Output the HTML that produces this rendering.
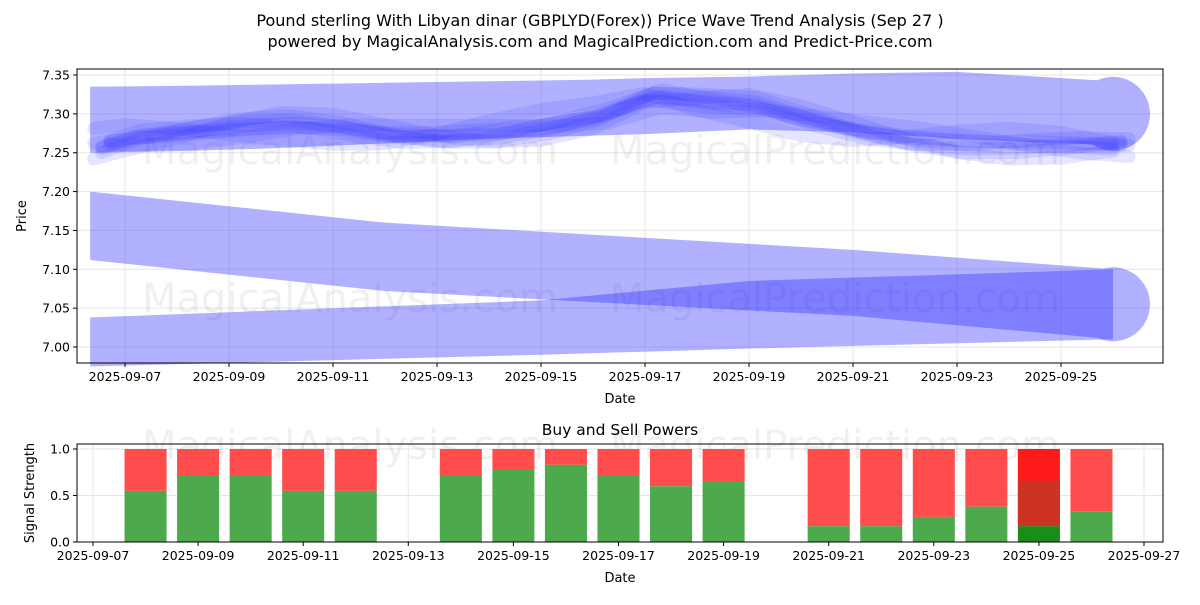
<!DOCTYPE html>
<html><head><meta charset="utf-8">
<style>
body{margin:0;background:#fff;font-family:"Liberation Sans","DejaVu Sans",sans-serif;}
svg text{font-family:"DejaVu Sans","Liberation Sans",sans-serif;}
</style></head>
<body>
<svg id="c" width="1200" height="600" viewBox="0 0 1200 600">
<text x="600" y="26" text-anchor="middle" font-size="16">Pound sterling With Libyan dinar (GBPLYD(Forex)) Price Wave Trend Analysis (Sep 27 )</text>
<text x="600" y="47" text-anchor="middle" font-size="16">powered by MagicalAnalysis.com and MagicalPrediction.com and Predict-Price.com</text>
<g id="topg"></g>
<g id="botg"></g>
</svg>
<script>
// ---- data ----
const waveDates=[6.4,7,8,9,10,11,12,13,14,15,16,17,18,19,20,21,22,23,24,25,26];
const waveCenter=[7.262,7.268,7.272,7.278,7.283,7.281,7.276,7.276,7.280,7.286,7.296,7.318,7.310,7.306,7.292,7.280,7.272,7.266,7.262,7.258,7.255];
const upperBandTop=[7.335,7.336,7.338,7.340,7.342,7.344,7.346,7.348,7.352,7.354,7.346,7.342];
const upperBandBot=[7.250,7.252,7.256,7.262,7.268,7.272,7.274,7.280,7.276,7.268,7.262,7.260];
const upperBandX=[6.33,8,10,12,14,16,17,19,21,23,25,26.0];
const barDates=[8,9,10,11,12,14,15,16,17,18,19,21,22,23,24,25,26];
const buyPower=[0.55,0.72,0.72,0.55,0.55,0.72,0.78,0.83,0.72,0.6,0.65,0.17,0.17,0.27,0.38,0.17,0.33];
const yTicksTop=[7.00,7.05,7.10,7.15,7.20,7.25,7.30,7.35];
const xTicksTop=[7,9,11,13,15,17,19,21,23,25];
const xTicksBot=[7,9,11,13,15,17,19,21,23,25,27];
const yTicksBot=[0,0.5,1.0];

const NS="http://www.w3.org/2000/svg";
function el(tag,attrs,parent){const e=document.createElementNS(NS,tag);for(const k in attrs)e.setAttribute(k,attrs[k]);parent.appendChild(e);return e;}
const topG=document.getElementById('topg'),botG=document.getElementById('botg');
const X1=d=>125+(d-7)*52;
const Y1=v=>347-(v-7.0)*777.1;
const X2=d=>93+(d-7)*52.55;
const Y2=v=>542-v*93;
const L=77,R=1163;

yTicksTop.forEach(v=>{const g=el('line',{x1:L,x2:R,y1:Y1(v),y2:Y1(v),stroke:'#e6e6e6'},topG);});
xTicksTop.forEach(d=>{const g=el('line',{x1:X1(d),x2:X1(d),y1:69,y2:363,stroke:'#e6e6e6'},topG);});
[[350,150],[835,150],[350,298],[835,298]].forEach((p,i)=>{const t=el('text',{x:p[0],y:p[1]+14,'text-anchor':'middle','font-size':40,fill:'#000','fill-opacity':0.06},topG);t.textContent=i%2?'MagicalPrediction.com':'MagicalAnalysis.com';});
const solid='#2828ff';
let gU=el('g',{opacity:0.36},topG);
let pts=upperBandX.map((d,i)=>X1(d)+','+Y1(upperBandTop[i]));
pts=pts.concat(upperBandX.map((d,i)=>X1(d)+','+Y1(upperBandBot[i])).reverse());
let b=el('polygon',{points:pts.join(' '),fill:solid},gU);
b=el('circle',{cx:X1(26.0),cy:Y1(7.30),r:37,fill:solid},gU);
const bandA=[[6.33,7.200,7.112],[12,7.160,7.072],[21,7.125,7.040],[26.0,7.100,7.010]];
const bandB=[[6.33,7.038,6.975],[15,7.060,6.990],[19,7.085,6.998],[26.0,7.100,7.010]];
[bandA,bandB].forEach((bd,j)=>{const g=el('g',{opacity:0.36},topG);
 let p=bd.map(r=>X1(r[0])+','+Y1(r[1])).concat(bd.map(r=>X1(r[0])+','+Y1(r[2])).reverse());const q=el('polygon',{points:p.join(' '),fill:solid},g);
 if(j===0){const c=el('circle',{cx:X1(26.0),cy:Y1(7.055),r:37,fill:solid},g);}});
const offs=[-0.02,-0.012,-0.005,0,0.006,0.013,0.02,-0.016,0.01];
offs.forEach((o,k)=>{const d=waveDates.map((t,i)=>(i?'L':'M')+(X1(t)+(k%3)*8)+','+Y1(waveCenter[i]+o*Math.cos(i*0.7+k))).join(' ');const p=el('path',{d:d,fill:'none',stroke:'rgba(40,40,255,0.12)','stroke-width':13,'stroke-linejoin':'round','stroke-linecap':'round'},topG);});
b=el('rect',{x:L,y:69,width:R-L,height:294,fill:'none',stroke:'#000'},topG);
yTicksTop.forEach(v=>{el('line',{x1:L-4,x2:L,y1:Y1(v),y2:Y1(v),stroke:'#000'},topG);const t=el('text',{x:L-7,y:Y1(v)+4.5,'text-anchor':'end','font-size':12.5},topG);t.textContent=v.toFixed(2);});
xTicksTop.forEach(d=>{el('line',{x1:X1(d),x2:X1(d),y1:363,y2:367,stroke:'#000'},topG);const t=el('text',{x:X1(d),y:381,'text-anchor':'middle','font-size':12.5},topG);t.textContent='2025-09-'+String(d).padStart(2,'0');});
let t=el('text',{x:620,y:403,'text-anchor':'middle','font-size':13},topG);t.textContent='Date';
t=el('text',{x:26,y:216,'text-anchor':'middle','font-size':13,transform:'rotate(-90 26 216)'},topG);t.textContent='Price';

t=el('text',{x:620,y:435,'text-anchor':'middle','font-size':15.5},botG);t.textContent='Buy and Sell Powers';
yTicksBot.forEach(v=>{const g=el('line',{x1:L,x2:R,y1:Y2(v),y2:Y2(v),stroke:'#e6e6e6'},botG);});
xTicksBot.forEach(d=>{const g=el('line',{x1:X2(d),x2:X2(d),y1:444,y2:542,stroke:'#e6e6e6'},botG);});
[[350,445],[835,445]].forEach((p,i)=>{const w=el('text',{x:p[0],y:p[1]+14,'text-anchor':'middle','font-size':40,fill:'#000','fill-opacity':0.06},botG);w.textContent=i?'MagicalPrediction.com':'MagicalAnalysis.com';});
const bw=0.8*52.55;
barDates.forEach((d,i)=>{const x=X2(d)-bw/2;const v=buyPower[i];const last=d===25;
 const s=el('rect',{x:x,y:Y2(1),width:bw,height:Y2(v)-Y2(1),fill:last?'#ff1a1a':'#ff4c4c'},botG);
 if(last){const o=el('rect',{x:x,y:Y2(0.66),width:bw,height:Y2(v)-Y2(0.66),fill:'#cc3322'},botG);}
 const g=el('rect',{x:x,y:Y2(v),width:bw,height:Y2(0)-Y2(v),fill:last?'#1a8c1a':'#4caa4c'},botG);});
b=el('rect',{x:L,y:444,width:R-L,height:98,fill:'none',stroke:'#000'},botG);
yTicksBot.forEach(v=>{el('line',{x1:L-4,x2:L,y1:Y2(v),y2:Y2(v),stroke:'#000'},botG);const q=el('text',{x:L-7,y:Y2(v)+4.5,'text-anchor':'end','font-size':12.5},botG);q.textContent=v.toFixed(1);});
xTicksBot.forEach(d=>{el('line',{x1:X2(d),x2:X2(d),y1:542,y2:546,stroke:'#000'},botG);const q=el('text',{x:X2(d),y:560,'text-anchor':'middle','font-size':12.5},botG);q.textContent='2025-09-'+String(d).padStart(2,'0');});
t=el('text',{x:620,y:582,'text-anchor':'middle','font-size':13},botG);t.textContent='Date';
t=el('text',{x:34,y:493,'text-anchor':'middle','font-size':13,transform:'rotate(-90 34 493)'},botG);t.textContent='Signal Strength';
</script>
</body></html>
